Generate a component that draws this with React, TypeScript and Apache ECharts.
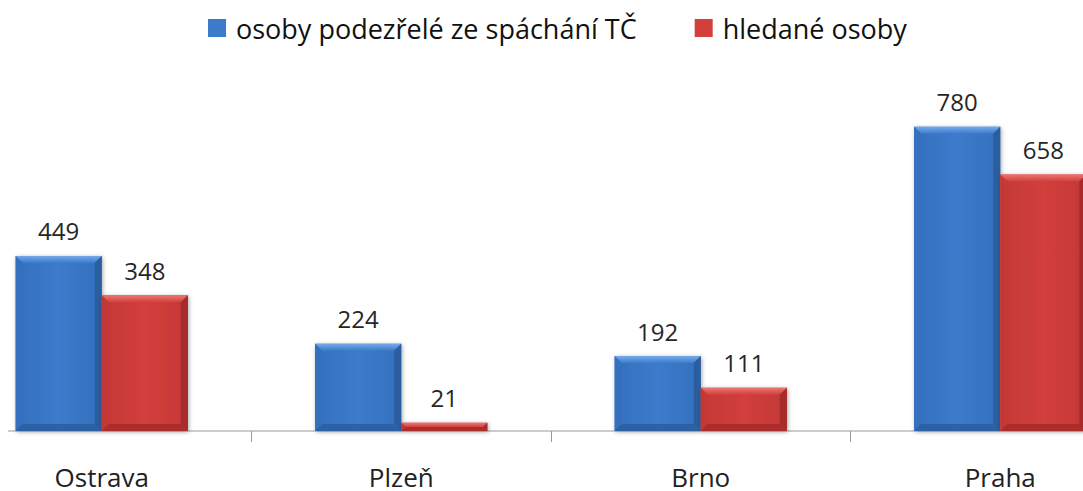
import React, { useEffect, useRef } from "react";
import * as echarts from "echarts";

const categories = ["Ostrava", "Plzeň", "Brno", "Praha"];
const seriesNames = ["osoby podezřelé ze spáchání TČ", "hledané osoby"];
const suspects = [449, 224, 192, 780];
const wanted = [348, 21, 111, 658];

const FONT = "'Open Sans', 'Noto Sans', sans-serif";
const OFFSET = 48;

const palettes = [
  { main: "#3C7BCB", light: "#76A9EA", dark: "#2A5E9F", side: "#3470BE" },
  { main: "#D23F3C", light: "#EC7774", dark: "#A52C2A", side: "#C33835" },
];

function makeRender(idx: number) {
  return (params: any, api: any) => {
    const cat = api.value(0);
    const val = api.value(1);
    const top = api.coord([cat, val]);
    const base = api.coord([cat, 0]);
    const bw = api.size([1, 0])[0] * 0.2875;
    const cx = top[0];
    const x0 = idx === 0 ? cx - bw : cx;
    const x1 = x0 + bw;
    const y0 = top[1];
    const y1 = base[1];
    const h = y1 - y0;
    const b = Math.min(7, h / 2);
    const p = palettes[idx];
    return {
      type: "group",
      children: [
        {
          type: "rect",
          shape: { x: x0, y: y0, width: bw, height: h },
          style: {
            fill: new echarts.graphic.LinearGradient(0, 0, 1, 0, [
              { offset: 0, color: p.side },
              { offset: 0.5, color: p.main },
              { offset: 1, color: p.side },
            ]),
            shadowBlur: 4,
            shadowOffsetX: 1,
            shadowOffsetY: 1,
            shadowColor: "rgba(0,0,0,0.35)",
          },
        },
        {
          type: "polygon",
          shape: { points: [[x0, y0], [x1, y0], [x1 - b, y0 + b], [x0 + b, y0 + b]] },
          style: {
            fill: new echarts.graphic.LinearGradient(0, 0, 0, 1, [
              { offset: 0, color: p.light },
              { offset: 1, color: p.main },
            ]),
          },
        },
        {
          type: "polygon",
          shape: { points: [[x0, y0], [x0 + b, y0 + b], [x0 + b, y1 - b], [x0, y1]] },
          style: { fill: p.side, opacity: 0.9 },
        },
        {
          type: "polygon",
          shape: { points: [[x1, y0], [x1 - b, y0 + b], [x1 - b, y1 - b], [x1, y1]] },
          style: { fill: p.dark },
        },
        {
          type: "polygon",
          shape: { points: [[x0, y1], [x0 + b, y1 - b], [x1 - b, y1 - b], [x1, y1]] },
          style: { fill: p.dark, opacity: 0.85 },
        },
        {
          type: "text",
          x: (x0 + x1) / 2,
          y: y0 - 25,
          style: {
            text: String(val),
            fill: "#262626",
            fontSize: 24,
            fontFamily: FONT,
            align: "center",
            verticalAlign: "middle",
          },
        },
      ],
    };
  };
}

export default function App() {
  const ref = useRef<HTMLDivElement>(null);
  useEffect(() => {
    document.body.style.margin = "0";
    const chart = echarts.init(ref.current!, undefined, { renderer: "svg" });
    const data = [suspects, wanted];
    chart.setOption({
      animation: false,
      backgroundColor: "#ffffff",
      legend: {
        top: 8,
        left: 203 + OFFSET,
        itemWidth: 18,
        itemHeight: 18,
        itemGap: 58,
        icon: "rect",
        textStyle: {
          fontSize: 27,
          lineHeight: 30,
          fontFamily: FONT,
          color: "#111",
          padding: [0, 0, 0, 5],
        },
        data: seriesNames,
      },
      grid: { left: 0, right: 0, top: 41, bottom: 60 },
      xAxis: {
        type: "category",
        data: categories,
        axisLine: { show: false },
        axisTick: { show: true, length: 11, lineStyle: { color: "#999" } },
        axisLabel: { margin: 33, fontSize: 26, fontFamily: FONT, color: "#222" },
      },
      yAxis: { type: "value", min: 0, max: 1000, show: false, splitLine: { show: false } },
      graphic: [
        {
          type: "line",
          shape: { x1: 8 + OFFSET, y1: 431, x2: 1198, y2: 431 },
          style: { stroke: "#999", lineWidth: 1 },
          z: 0,
        },
      ],
      series: data.map((vals, i) => ({
        type: "custom",
        name: seriesNames[i],
        itemStyle: { color: palettes[i].main },
        renderItem: makeRender(i),
        data: vals.map((v, j) => [j, v]),
        z: 2,
      })),
    });
    return () => chart.dispose();
  }, []);
  return (
    <div style={{ position: "relative", width: 1083, height: 491, overflow: "hidden", background: "#fff" }}>
      <div ref={ref} style={{ position: "absolute", left: -OFFSET, top: 0, width: 1198, height: 491 }} />
    </div>
  );
}
